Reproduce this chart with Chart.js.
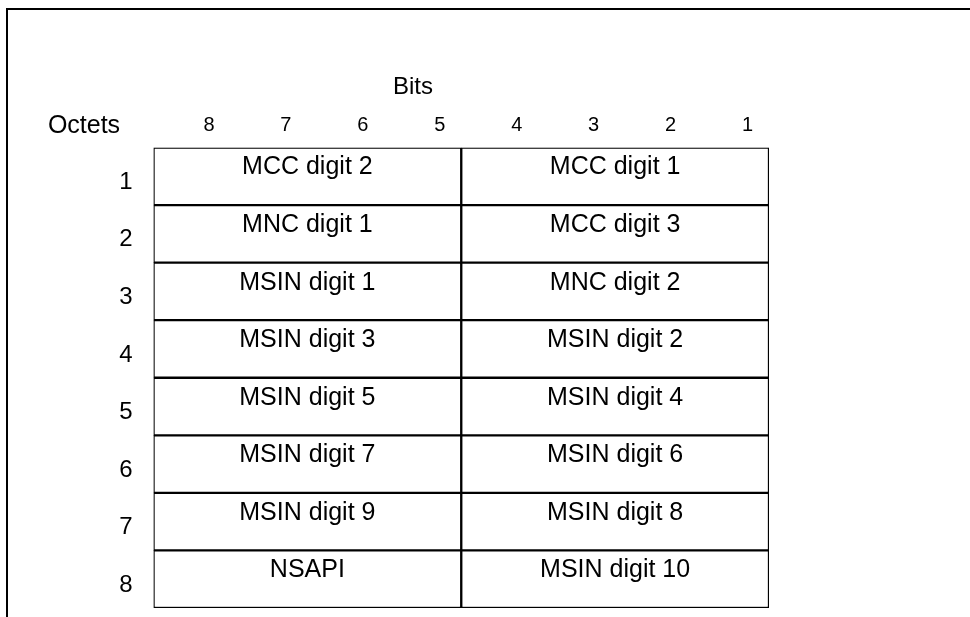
<!DOCTYPE html>
<html>
<head>
<meta charset="utf-8">
<script src="https://cdn.jsdelivr.net/npm/chart.js@4"></script>
<style>
    body { margin: 0; background: #fff; }
    #wrap { width: 970px; height: 617px; }
</style>
</head>
<body>
<div id="wrap"><canvas id="octetChart" width="970" height="617"></canvas></div>
<script>
// Octets (rows) and bit numbers (columns)
const octets = ['1', '2', '3', '4', '5', '6', '7', '8'];
const bits = [8, 7, 6, 5, 4, 3, 2, 1];

// What sits in bits 8-5 and bits 4-1 of each octet
const highNibble = ['MCC digit 2', 'MNC digit 1', 'MSIN digit 1', 'MSIN digit 3',
    'MSIN digit 5', 'MSIN digit 7', 'MSIN digit 9', 'NSAPI'];
const lowNibble = ['MCC digit 1', 'MCC digit 3', 'MNC digit 2', 'MSIN digit 2',
    'MSIN digit 4', 'MSIN digit 6', 'MSIN digit 8', 'MSIN digit 10'];

// bit ranges of the two halves
const highRange = [4, 8];
const lowRange = [0, 4];

const fontFamily = '"Liberation Sans", Arial, sans-serif';

// cadre, titres et textes des cases
const tablePlugin = {
    id: 'tablePlugin',
    beforeDraw(chart) {
        const ctx = chart.ctx;
        ctx.save();
        ctx.fillStyle = '#fff';
        ctx.fillRect(0, 0, chart.width, chart.height);
        ctx.strokeStyle = '#000';
        ctx.lineWidth = 2;
        ctx.beginPath();
        ctx.moveTo(7, chart.height);
        ctx.lineTo(7, 9);
        ctx.lineTo(chart.width, 9);
        ctx.stroke();
        ctx.restore();
    },
    afterDatasetsDraw(chart) {
        const ctx = chart.ctx;
        ctx.save();
        ctx.fillStyle = '#000';
        ctx.textAlign = 'center';
        ctx.textBaseline = 'middle';
        ctx.font = '24px ' + fontFamily;
        ctx.fillText('Bits', 413, 87);
        ctx.font = '25px ' + fontFamily;
        ctx.fillText('Octets', 84, 126);

        ctx.font = '25px ' + fontFamily;
        [highNibble, lowNibble].forEach((labels, i) => {
            const meta = chart.getDatasetMeta(i);
            meta.data.forEach((bar, j) => {
                const cx = (bar.x + bar.base) / 2;
                const top = bar.y - bar.height / 2;
                ctx.fillText(labels[j], cx, top + 20);
            });
        });
        ctx.restore();
    }
};

new Chart(document.getElementById('octetChart'), {
    type: 'bar',
    data: {
        labels: octets,
        datasets: [{
            label: 'Bits 8-5',
            data: octets.map(() => highRange),
            backgroundColor: '#fff',
            borderColor: '#000',
            borderWidth: 1.5,
            borderSkipped: false,
            grouped: false,
            categoryPercentage: 1,
            barPercentage: 1
        }, {
            label: 'Bits 4-1',
            data: octets.map(() => lowRange),
            backgroundColor: '#fff',
            borderColor: '#000',
            borderWidth: 1.5,
            borderSkipped: false,
            grouped: false,
            categoryPercentage: 1,
            barPercentage: 1
        }]
    },
    options: {
        indexAxis: 'y',
        responsive: false,
        animation: false,
        events: [],
        layout: { padding: { left: 0, right: 201, top: 0, bottom: 9 } },
        plugins: {
            legend: { display: false },
            tooltip: { enabled: false }
        },
        scales: {
            x: {
                type: 'linear',
                position: 'top',
                min: 0,
                max: 8,
                reverse: true,
                grid: { display: false, drawTicks: false },
                border: { display: false },
                afterBuildTicks: scale => {
                    scale.ticks = bits.map(b => ({ value: b - 0.5 }));
                },
                afterFit: scale => {
                    scale.height = 147.5;
                    scale.paddingLeft = 0;
                    scale.paddingRight = 0;
                },
                ticks: {
                    callback: value => String(value + 0.5),
                    labelOffset: 17,
                    padding: 10,
                    color: '#000',
                    font: { size: 20, family: fontFamily }
                }
            },
            y: {
                type: 'category',
                position: 'left',
                grid: { display: false, drawTicks: false },
                border: { display: false },
                afterFit: scale => {
                    scale.width = 153.5;
                    scale.paddingTop = 0;
                    scale.paddingBottom = 0;
                },
                ticks: {
                    labelOffset: 6,
                    padding: 21,
                    color: '#000',
                    font: { size: 24, family: fontFamily }
                }
            }
        }
    },
    plugins: [tablePlugin]
});
</script>
</body>
</html>
